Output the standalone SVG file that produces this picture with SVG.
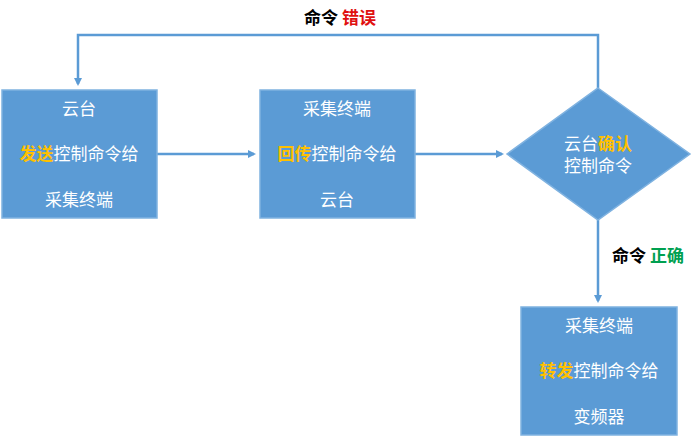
<svg xmlns="http://www.w3.org/2000/svg" width="700" height="439" viewBox="0 0 700 439">
<style>
.n{fill:#5b9bd5;stroke:#7fb2e0;stroke-width:1.5}
.t{font-family:"Noto Sans CJK SC",sans-serif;font-size:17px;fill:#fff;text-anchor:middle}
.h{fill:#ffc000;font-weight:bold}
.c{fill:none;stroke:#5b9bd5;stroke-width:2.5}
.l{font-family:"Noto Sans CJK SC",sans-serif;font-size:17px;font-weight:bold;text-anchor:middle}
</style>
<defs><marker id="a" markerWidth="8" markerHeight="8" refX="6" refY="4" orient="auto" markerUnits="userSpaceOnUse" viewBox="0 0 8 8"><path d="M0,0L8,4L0,8z" fill="#5b9bd5"/></marker></defs>
<rect width="700" height="439" fill="#fff"/>
<g id="connectors">
<path class="c" d="M157,154H254" marker-end="url(#a)"/>
<path class="c" d="M415,154H502" marker-end="url(#a)"/>
<path class="c" d="M598,220V301" marker-end="url(#a)"/>
<path class="c" d="M598,88V35H78V84" marker-end="url(#a)"/>
<text class="l" x="340" y="24"><tspan fill="#000">命令 </tspan><tspan fill="#e01010">错误</tspan></text>
<text class="l" x="648" y="262"><tspan fill="#000">命令 </tspan><tspan fill="#00a050">正确</tspan></text>
</g>
<g id="n1"><rect class="n" x="2" y="90" width="155" height="128"/>
<text class="t" x="79" y="115">云台</text>
<text class="t" x="79" y="160"><tspan class="h">发送</tspan>控制命令给</text>
<text class="t" x="79" y="206">采集终端</text></g>
<g id="n2"><rect class="n" x="260" y="90" width="155" height="128"/>
<text class="t" x="337" y="115">采集终端</text>
<text class="t" x="337" y="160"><tspan class="h">回传</tspan>控制命令给</text>
<text class="t" x="337" y="206">云台</text></g>
<g id="n3"><path class="n" d="M598,88L690,154L598,220L507,154z"/>
<text class="t" x="598" y="150">云台<tspan class="h">确认</tspan></text>
<text class="t" x="598" y="172">控制命令</text></g>
<g id="n4"><rect class="n" x="521" y="307" width="156" height="128"/>
<text class="t" x="599" y="332">采集终端</text>
<text class="t" x="599" y="377"><tspan class="h">转发</tspan>控制命令给</text>
<text class="t" x="599" y="423">变频器</text></g>
</svg>
